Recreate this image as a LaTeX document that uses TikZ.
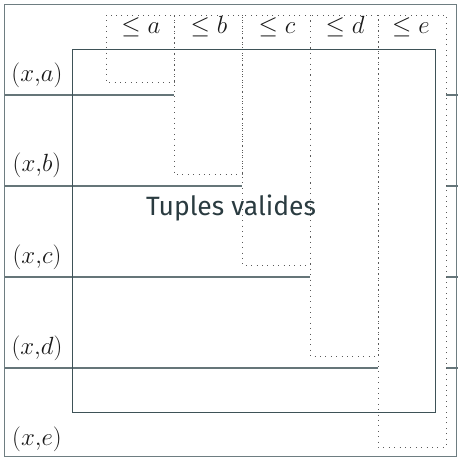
\documentclass[tikz,border=0pt]{standalone}
\usepackage{fontspec}
\setsansfont{Fira Sans}
\begin{document}
\begin{tikzpicture}[x=1pt,y=-1pt,
  frameline/.style={draw=linec!75, line width=1pt},
  rowline/.style={draw=linec!80, line width=1.1pt},
  mainbox/.style={draw=linec, line width=1pt},
  colbox/.style={draw=black!65, line width=0.8pt, dash pattern=on 0.8pt off 4.6pt},
  lbl/.style={inner sep=0pt, font=\fontsize{25}{30}\selectfont, text=black!90},
  title/.style={inner sep=0pt, font=\sffamily\fontsize{26.5}{31}\selectfont, text=textc}]
\definecolor{linec}{HTML}{3E5257}
\definecolor{textc}{HTML}{2A3B40}
\useasboundingbox (0,0) rectangle (458,458);
% outer frame
\draw[frameline] (4.5,4.5) rectangle (456.5,456.5);
% row lines
\coordinate (r1l) at (4.5,95);  \coordinate (r1r) at (174,95);
\coordinate (r2l) at (4.5,186); \coordinate (r2r) at (242,186);
\coordinate (r3l) at (4.5,277); \coordinate (r3r) at (310,277);
\coordinate (r4l) at (4.5,368); \coordinate (r4r) at (378,368);
\draw[rowline] (r1l) -- (r1r);
\draw[rowline] (r2l) -- (r2r);
\draw[rowline] (r3l) -- (r3r);
\draw[rowline] (r4l) -- (r4r);
\coordinate (s1l) at (446,95);  \coordinate (s1r) at (458,95);
\coordinate (s2l) at (446,186); \coordinate (s2r) at (458,186);
\coordinate (s3l) at (446,277); \coordinate (s3r) at (458,277);
\coordinate (s4l) at (446,368); \coordinate (s4r) at (458,368);
\draw[rowline] (s1l) -- (s1r);
\draw[rowline] (s2l) -- (s2r);
\draw[rowline] (s3l) -- (s3r);
\draw[rowline] (s4l) -- (s4r);
% text
\node[title] (tv) at (231,208) {Tuples valides};
% dotted columns
\draw[colbox] (106,15) rectangle (174,82);
\draw[colbox] (174,15) rectangle (242,174);
\draw[colbox] (242,15) rectangle (310,265);
\draw[colbox] (310,15) rectangle (378,356);
\draw[colbox] (378,15) rectangle (446,447);
% main rectangle
\draw[mainbox] (72,49) rectangle (435,412);
% column labels
\node[lbl] (ca) at (141,27) {$\leq a$};
\node[lbl] (cb) at (209,27) {$\leq b$};
\node[lbl] (cc) at (277,27) {$\leq c$};
\node[lbl] (cd) at (345,27) {$\leq d$};
\node[lbl] (ce) at (411,27) {$\leq e$};
% row labels
\node[lbl] (la) at (37,75) {$(x{,}a)$};
\node[lbl] (lb) at (37,165) {$(x{,}b)$};
\node[lbl] (lc) at (37,257) {$(x{,}c)$};
\node[lbl] (ld) at (37,348) {$(x{,}d)$};
\node[lbl] (le) at (37,439) {$(x{,}e)$};
\end{tikzpicture}
\end{document}
